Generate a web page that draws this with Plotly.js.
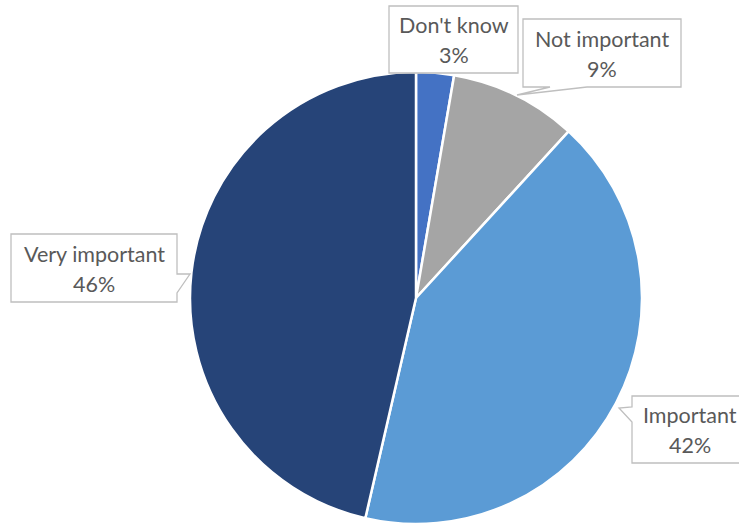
<!DOCTYPE html>
<html>
<head>
<meta charset="utf-8">
<script src="https://cdn.plot.ly/plotly-3.0.1.min.js"></script>
<style>html,body{margin:0;padding:0;background:#fff;}#chart{width:739px;height:526px;}</style>
</head>
<body>
<div id="chart"></div>
<script>
var categories = ["Don't know", "Not important", "Important", "Very important"];
var values = [2.7, 9.1, 41.8, 46.4];
var colors = ["#4472C4", "#A5A5A5", "#5B9BD5", "#264478"];

var W = 739, H = 526;
function px(x) { return x / W; }
function py(y) { return 1 - y / H; }
function pathFrom(pts) {
  return pts.map(function (p, i) { return (i ? 'L ' : 'M ') + px(p[0]).toFixed(5) + ',' + py(p[1]).toFixed(5); }).join(' ') + ' Z';
}
var total = values.reduce(function (a, b) { return a + b; }, 0);
function pct(i) { return Math.round(values[i] / total * 100) + '%'; }

// callout layout: box outline (with pointer) and text centre, in pixels
var callouts = [
  { idx: 0, cx: 454, cy: 40, pts: [[389,6],[518,6],[518,73],[389,73]] },
  { idx: 1, cx: 602, cy: 54, pts: [[523,19],[681,19],[681,87],[587,87],[517,95],[550,87],[523,87]] },
  { idx: 2, cx: 690, cy: 430, pts: [[632,396],[745,396],[745,463],[632,463],[632,422],[619,408],[632,407]] },
  { idx: 3, cx: 94, cy: 269, pts: [[11,234],[177,234],[177,274],[190,274],[177,293],[177,302],[11,302]] }
];

var shapes = callouts.map(function (c) {
  return { type: 'path', xref: 'paper', yref: 'paper', path: pathFrom(c.pts),
    fillcolor: '#FFFFFF', line: { color: '#BFBFBF', width: 1.3 }, layer: 'above' };
});
var font = { family: 'Lato, Calibri, sans-serif', size: 21.5, color: '#595959' };
var annotations = [];
callouts.forEach(function (c) {
  [categories[c.idx], pct(c.idx)].forEach(function (t, k) {
    annotations.push({ xref: 'paper', yref: 'paper', x: px(c.cx), y: py(c.cy + (k ? 15 : -15)),
      xanchor: 'center', yanchor: 'middle', showarrow: false, text: t, font: font });
  });
});

var data = [{
  type: 'pie',
  labels: categories,
  values: values,
  sort: false,
  direction: 'clockwise',
  rotation: 0,
  marker: { colors: colors, line: { color: '#FFFFFF', width: 2.5 } },
  textinfo: 'none',
  hoverinfo: 'label+percent',
  showlegend: false,
  domain: { x: [189 / W, 643 / W], y: [2 / H, 454 / H] }
}];

var layout = {
  width: W, height: H,
  margin: { l: 0, r: 0, t: 0, b: 0 },
  paper_bgcolor: '#FFFFFF',
  showlegend: false,
  shapes: shapes,
  annotations: annotations
};

Plotly.newPlot('chart', data, layout, { displayModeBar: false, staticPlot: true });
</script>
</body>
</html>
